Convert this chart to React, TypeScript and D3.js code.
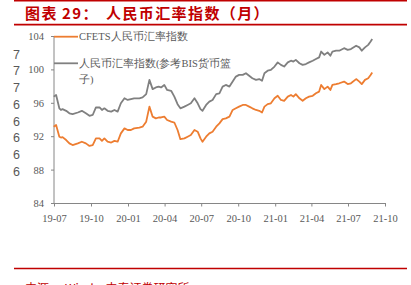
import React from "react";
import * as d3 from "d3";

// Observation dates (weekly-ish readings) and the two index series
const dates: string[] = [
  "2019-06-29","2019-07-05","2019-07-13","2019-07-17","2019-07-21","2019-07-30","2019-08-07","2019-08-15",
  "2019-08-28","2019-09-07","2019-09-17","2019-09-26","2019-10-04","2019-10-12","2019-10-21","2019-10-27",
  "2019-11-02","2019-11-10","2019-11-19","2019-11-27","2019-12-05","2019-12-13","2019-12-22","2019-12-30",
  "2020-01-07","2020-01-15","2020-01-28","2020-02-05","2020-02-14","2020-02-22","2020-03-01","2020-03-09",
  "2020-03-16","2020-03-22","2020-03-30","2020-04-06","2020-04-16","2020-04-24","2020-05-02","2020-05-09",
  "2020-05-19","2020-05-27","2020-06-04","2020-06-13","2020-06-21","2020-06-28","2020-07-03","2020-07-12",
  "2020-07-20","2020-07-28","2020-08-06","2020-08-14","2020-08-22","2020-08-30","2020-09-08","2020-09-16",
  "2020-09-24","2020-10-02","2020-10-11","2020-10-19","2020-10-27","2020-11-04","2020-11-13","2020-11-21",
  "2020-11-28","2020-12-04","2020-12-12","2020-12-20","2020-12-29","2021-01-06","2021-01-14","2021-01-22",
  "2021-01-31","2021-02-08","2021-02-14","2021-02-20","2021-03-01","2021-03-09","2021-03-17","2021-03-25",
  "2021-04-03","2021-04-11","2021-04-19","2021-04-24","2021-05-02","2021-05-10","2021-05-17","2021-05-22",
  "2021-05-31","2021-06-08","2021-06-20","2021-06-29","2021-07-07","2021-07-20","2021-07-28","2021-08-03",
  "2021-08-11","2021-08-19","2021-08-25","2021-08-29",
];

const cfets: number[] = [
  93.2, 93.4, 92.0, 91.9, 91.95, 91.6, 91.2, 91.0,
  91.2, 91.4, 91.2, 90.9, 91.0, 91.8, 91.8, 91.5,
  91.8, 91.4, 91.3, 91.5, 91.4, 92.4, 93.0, 92.8,
  92.8, 93.0, 93.1, 93.2, 93.8, 95.6, 94.4, 94.2,
  94.3, 94.3, 94.4, 94.0, 93.8, 93.7, 92.8, 91.7,
  91.8, 92.0, 92.2, 92.8, 92.6, 91.8, 91.4, 92.0,
  92.4, 92.6, 93.2, 93.6, 94.1, 94.2, 94.4, 95.2,
  95.4, 95.6, 95.8, 95.8, 95.6, 95.4, 95.2, 95.1,
  94.9, 95.6, 95.9, 96.0, 96.6, 96.9, 96.4, 96.3,
  96.8, 97.0, 96.8, 97.1, 96.6, 96.3, 96.6, 96.8,
  96.9, 97.2, 97.4, 98.2, 97.7, 98.0, 97.6, 98.2,
  98.3, 98.4, 98.6, 98.3, 98.4, 98.9, 98.6, 98.3,
  98.8, 99.0, 99.4, 99.7,
];

const bis: number[] = [
  96.8, 97.0, 95.4, 95.2, 95.3, 95.1, 94.8, 94.7,
  94.9, 95.1, 94.8, 94.5, 94.6, 95.5, 95.5, 95.2,
  95.4, 95.1, 95.0, 95.2, 95.0, 96.0, 96.6, 96.4,
  96.5, 96.6, 96.6, 96.7, 97.1, 98.8, 97.7, 97.9,
  98.0, 97.9, 98.2, 97.6, 97.5, 96.8, 95.9, 95.4,
  95.6, 95.8, 96.0, 96.6, 96.0, 95.3, 95.1, 95.8,
  96.2, 96.4, 97.1, 97.2, 98.0, 98.2, 98.0, 98.6,
  99.2, 99.4, 99.4, 99.6, 99.3, 99.0, 98.8, 98.9,
  98.7, 99.6, 99.9, 100.0, 100.4, 100.9, 100.6, 100.4,
  100.9, 101.1, 101.0, 101.2, 100.8, 100.6, 100.7, 100.9,
  101.1, 101.3, 101.5, 102.2, 101.8, 102.1, 101.7, 102.2,
  102.3, 102.3, 102.6, 102.4, 102.5, 102.9, 102.7, 102.3,
  102.7, 103.0, 103.4, 103.7,
];

const xTickLabels: string[] = ["19-07","19-10","20-01","20-04","20-07","20-10","21-01","21-04","21-07","21-10"];
const yTicks: number[] = [84, 88, 92, 96, 100, 104];
const sideGlyphs: string[] = ["7", "7", "7", "6", "6", "6", "6", "6"];
const legendLabels: string[] = ["CFETS人民币汇率指数", "人民币汇率指数(参考BIS货币篮", "子)"];

const W = 411;
const H = 285;
const RED = "#C00000";
const ORANGE = "#ED7D31";
const GRAY = "#808080";
const TEXT = "#595959";
const AXIS = "#868686";
const SERIF = "'Liberation Serif', 'Times New Roman', serif";

function tickDate(label: string): Date {
  const [yy, mm] = label.split("-").map(Number);
  return new Date(Date.UTC(2000 + yy, mm - 1, 1));
}

export default function App() {
  const parsed = dates.map((d) => new Date(d + "T00:00:00Z"));
  const x = d3
    .scaleUtc()
    .domain([tickDate(xTickLabels[0]), tickDate(xTickLabels[xTickLabels.length - 1])])
    .range([54.5, 385.5]);
  const y = d3.scaleLinear().domain([84, 104]).range([203.5, 36.5]);

  const line = d3
    .line<number>()
    .x((_, i) => x(parsed[i]))
    .y((v) => y(v))
    .curve(d3.curveLinear);

  const x0 = 54;
  const yBase = y(84);

  return (
    <svg
      width={W}
      height={H}
      viewBox={`0 0 ${W} ${H}`}
      style={{ position: "absolute", left: 0, top: 0, background: "#fff" }}
    >
      <rect x={0} y={0} width={W} height={H} fill="#fff" />
      {/* header */}
      <line x1={14} x2={407} y1={0.8} y2={0.8} stroke={RED} strokeWidth={1.5} />
      <text
        x={25}
        y={18.5}
        fill={RED}
        fontWeight="bold"
        fontSize={15}
        fontFamily="'Noto Sans CJK SC', 'Noto Sans', sans-serif"
        letterSpacing={1.4}
      >
        <tspan>图表</tspan>
        <tspan x={62}>29：</tspan>
        <tspan x={106}>人民币汇率指数（月）</tspan>
      </text>
      <line x1={14} x2={407} y1={24.6} y2={24.6} stroke={RED} strokeWidth={1.8} />

      {/* stray side glyphs */}
      {sideGlyphs.map((g, i) => (
        <text
          key={"g" + i}
          x={13}
          y={58.5 + i * 16.75}
          fill={TEXT}
          fontSize={12.5}
          fontFamily="'Liberation Sans', Arial, sans-serif"
        >
          {g}
        </text>
      ))}

      {/* y axis */}
      <line x1={x0} x2={x0} y1={y(104)} y2={yBase} stroke={AXIS} strokeWidth={1} />
      {yTicks.map((t) => (
        <g key={"y" + t}>
          <line x1={x0 - 3} x2={x0} y1={y(t)} y2={y(t)} stroke={AXIS} strokeWidth={1} />
          <text
            x={44}
            y={y(t) + 3.5}
            textAnchor="end"
            fill={TEXT}
            fontSize={10.5}
            fontFamily={SERIF}
          >
            {t}
          </text>
        </g>
      ))}

      {/* x axis */}
      <line x1={x0} x2={386} y1={yBase} y2={yBase} stroke={AXIS} strokeWidth={1} />
      {xTickLabels.map((l) => {
        const px = x(tickDate(l));
        return (
          <g key={"x" + l}>
            <line x1={px} x2={px} y1={yBase} y2={yBase + 3} stroke={AXIS} strokeWidth={1} />
            <text
              x={px}
              y={221.5}
              textAnchor="middle"
              fill={TEXT}
              fontSize={10.5}
              fontFamily={SERIF}
            >
              {l}
            </text>
          </g>
        );
      })}

      {/* series */}
      <path d={line(bis) ?? ""} fill="none" stroke={GRAY} strokeWidth={1.8} strokeLinejoin="round" />
      <path d={line(cfets) ?? ""} fill="none" stroke={ORANGE} strokeWidth={1.8} strokeLinejoin="round" />

      {/* legend */}
      <line x1={54} x2={78} y1={36.7} y2={36.7} stroke={ORANGE} strokeWidth={1.8} />
      <text x={79} y={40.3} fill={TEXT} fontSize={10.5} fontFamily={SERIF}>
        {legendLabels[0]}
      </text>
      <line x1={54} x2={78} y1={63.3} y2={63.3} stroke={GRAY} strokeWidth={1.8} />
      <text x={79} y={67} fill={TEXT} fontSize={10.5} fontFamily={SERIF}>
        {legendLabels[1]}
      </text>
      <text x={79} y={83} fill={TEXT} fontSize={10.5} fontFamily={SERIF}>
        {legendLabels[2]}
      </text>

      {/* footer */}
      <line x1={14} x2={407} y1={268.5} y2={268.5} stroke={RED} strokeWidth={1.5} />
      <text
        x={25}
        y={292.5}
        fill={RED}
        fontSize={12}
        fontFamily="'Noto Sans CJK SC', 'Noto Sans', sans-serif"
      >
        <tspan>来源：</tspan>
        <tspan x={65}>Wind，中泰证券研究所</tspan>
      </text>
    </svg>
  );
}
